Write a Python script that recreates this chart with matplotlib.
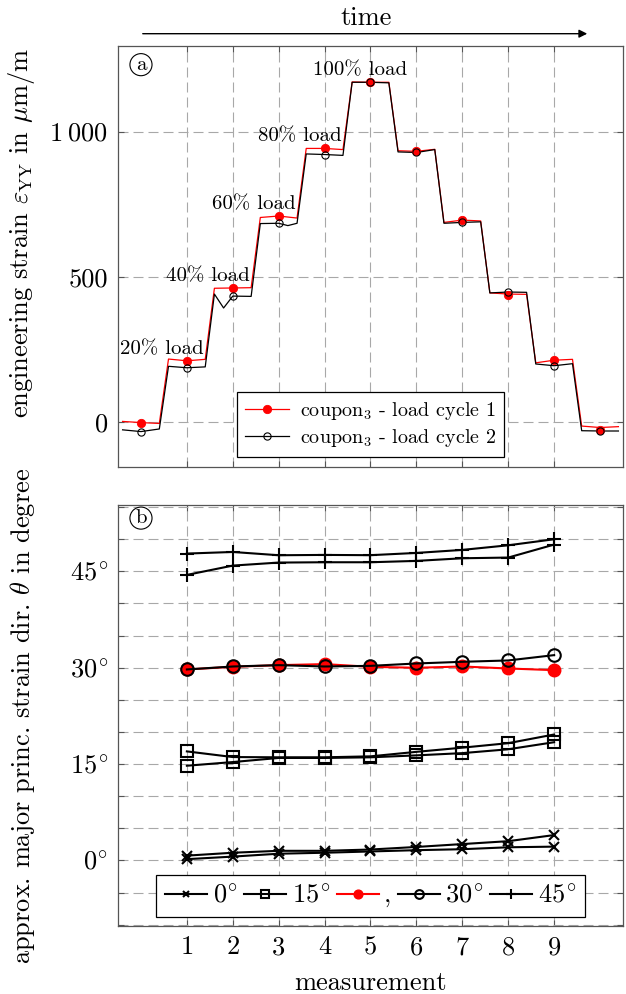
#!/usr/bin/env python3

import matplotlib
matplotlib.use("Agg")
import matplotlib.pyplot as plt
from matplotlib.ticker import MultipleLocator

plt.rcParams['font.family'] = ['cmr10', 'DejaVu Serif']
plt.rcParams['mathtext.fontset'] = 'cm'
plt.rcParams['axes.formatter.use_mathtext'] = True
plt.rcParams['axes.unicode_minus'] = False

# ---- panel (a): strain over time, two load cycles ----
t_cycle1 = [-0.4, 0, 0.4, 0.6, 1, 1.4, 1.6, 2, 2.4, 2.6, 3, 3.4, 3.6, 4, 4.4,
            4.6, 5, 5.4, 5.6, 6, 6.4, 6.6, 7, 7.4, 7.6, 8, 8.4, 8.6, 9, 9.4,
            9.6, 10, 10.4]
strain_cycle1 = [1, -3, -6, 216, 210, 215, 460, 461, 462, 704, 709, 702,
                 942, 942, 938, 1171, 1170, 1170, 934, 932, 939, 687, 695, 692,
                 444, 440, 439, 203, 212, 215, -15, -20, -17]

t_cycle2 = [-0.4, 0, 0.4, 0.6, 1, 1.4, 1.6, 1.8, 2, 2.4, 2.6, 3, 3.2, 3.4,
            3.6, 4, 4.4, 4.6, 5, 5.4, 5.6, 6, 6.4, 6.6, 7, 7.4, 7.6, 8, 8.4,
            8.6, 9, 9.4, 9.6, 10, 10.4]
strain_cycle2 = [-28, -34, -25, 191, 186, 189, 440, 392, 433, 432, 683, 684,
                 676, 684, 923, 921, 918, 1170, 1170, 1168, 930, 928, 938,
                 684, 687, 689, 444, 447, 446, 199, 193, 200, -31, -32, -32]

steps = list(range(11))
marks_cycle1 = [-3, 210, 461, 709, 942, 1170, 932, 695, 437, 214, -30]
marks_cycle2 = [-37, 186, 433, 684, 921, 1170, 928, 687, 447, 191, -32]

load_labels = ["20% load", "40% load", "60% load", "80% load", "100% load"]

# ---- panel (b): principal strain direction per measurement ----
meas = [1, 2, 3, 4, 5, 6, 7, 8, 9]
th0_a = [0.75, 1.2, 1.5, 1.5, 1.7, 2.1, 2.55, 3.0, 3.95]
th0_b = [0.2, 0.6, 1.05, 1.2, 1.4, 1.6, 1.75, 2.05, 2.15]
th15_a = [16.97, 16.09, 16.05, 16.05, 16.2, 16.9, 17.55, 18.25, 19.6]
th15_b = [14.74, 15.31, 15.95, 15.95, 16.05, 16.35, 16.7, 17.3, 18.4]
th30_red = [29.72, 30.13, 30.39, 30.55, 30.13, 29.98, 30.18, 29.87, 29.61]
th30_black = [29.72, 30.18, 30.39, 30.18, 30.28, 30.65, 30.91, 31.12, 31.95]
th45_a = [47.75, 48.0, 47.49, 47.54, 47.5, 47.85, 48.32, 49.04, 49.98]
th45_b = [44.43, 45.88, 46.35, 46.4, 46.4, 46.61, 47.02, 47.13, 49.15]

#####################################################################

FS = 19
GRID = dict(color='#a8a8a8', linestyle=(0, (9, 4.5)), linewidth=0.8)
SPINE = '#555555'

def deg(v):
    return r'$%d^{\!\circ}$' % v

def style_axes(ax):
    for s in ax.spines.values():
        s.set_color(SPINE)
        s.set_linewidth(0.9)
    ax.tick_params(which='both', direction='in', top=True, right=True,
                   length=4, width=0.8, color=SPINE, labelsize=FS, pad=7)
    ax.set_xlim(-0.5, 10.5)
    ax.set_xticks(meas)

fig = plt.figure(figsize=(6.26, 9.94), dpi=100)
ax1 = fig.add_axes([0.1885, 0.5305, 0.8067, 0.4235])
ax2 = fig.add_axes([0.1885, 0.0684, 0.8067, 0.4235])

# panel (a)
style_axes(ax1)
ax1.set_ylim(-155, 1296)
ax1.set_yticks([0, 500, 1000])
ax1.set_yticklabels(['0', '500', r'$1\:000$'])
ax1.set_xticklabels([])
ax1.grid(True, **GRID)
ax1.set_axisbelow(True)

l1, = ax1.plot(t_cycle1, strain_cycle1, color='red', lw=0.9)
l2, = ax1.plot(t_cycle2, strain_cycle2, color='black', lw=0.9)
m1, = ax1.plot(steps, marks_cycle1, 'o', color='red', ms=6, mew=0.6)
m2, = ax1.plot(steps, marks_cycle2, 'o', mfc='none', mec='black', ms=5.2, mew=0.8)

offsets = [(-25, 12), (-25, 12), (-25, 12), (-25, 12), (-10, 12)]
for k, (txt, off) in enumerate(zip(load_labels, offsets), start=1):
    ax1.annotate(txt, xy=(k, marks_cycle1[k]), xytext=off,
                 textcoords='offset pixels', ha='center', va='center',
                 fontsize=15)

leg1 = ax1.legend([(l1, m1), (l2, m2)],
                  [r'coupon$_3$ - load cycle 1', r'coupon$_3$ - load cycle 2'],
                  loc='lower center', bbox_to_anchor=(0.5, 0.023),
                  borderaxespad=0, fontsize=14.5, fancybox=False,
                  edgecolor='black', framealpha=1, handlelength=2.2,
                  handletextpad=0.5, borderpad=0.4, labelspacing=0.25)
leg1.get_frame().set_linewidth(0.9)

ax1.set_ylabel(r'engineering strain $\varepsilon_{\mathrm{YY}}$ in $\mu$m/m',
               fontsize=FS)
ax1.yaxis.set_label_coords(-0.160, 0.555)
ax1.text(0.0455, 0.955, 'a', transform=ax1.transAxes, ha='center',
         va='center', fontsize=15,
         bbox=dict(boxstyle='circle,pad=0.1', fc='white', ec='black', lw=0.8))

# panel (b)
style_axes(ax2)
ax2.set_ylim(-10.2, 55.3)
ax2.set_yticks([0, 15, 30, 45])
ax2.set_yticklabels([deg(v) for v in [0, 15, 30, 45]])
ax2.yaxis.set_minor_locator(MultipleLocator(5))
ax2.set_xticklabels([str(m) for m in meas])
ax2.grid(True, which='both', **GRID)
ax2.set_axisbelow(True)

lw = 1.5
h0, = ax2.plot(meas, th0_a, 'x-', color='black', lw=lw, ms=6.5, mew=1.5)
ax2.plot(meas, th0_b, 'x-', color='black', lw=lw, ms=6.5, mew=1.5)
h15, = ax2.plot(meas, th15_a, 's-', color='black', mfc='none', lw=lw, ms=8.5, mew=1.5)
ax2.plot(meas, th15_b, 's-', color='black', mfc='none', lw=lw, ms=8.5, mew=1.5)
hr, = ax2.plot(meas, th30_red, 'o-', color='red', lw=lw, ms=9)
hc, = ax2.plot(meas, th30_black, 'o-', color='black', mfc='none', lw=lw, ms=9, mew=1.5)
h45, = ax2.plot(meas, th45_a, '+-', color='black', lw=lw, ms=10, mew=1.5)
ax2.plot(meas, th45_b, '+-', color='black', lw=lw, ms=10, mew=1.5)

leg2 = ax2.legend([h0, h15, hr, hc, h45],
                  [deg(0), deg(15), ',', deg(30), deg(45)],
                  loc='lower center', bbox_to_anchor=(0.5, 0.0207),
                  borderaxespad=0, ncol=5, fontsize=FS, fancybox=False,
                  edgecolor='black', framealpha=1, handlelength=1.6,
                  handletextpad=0.2, columnspacing=0.25, borderpad=0.35,
                  markerscale=0.7)
leg2.get_frame().set_linewidth(0.9)

ax2.set_ylabel(r'approx. major princ. strain dir. $\theta$ in degree',
               fontsize=FS)
ax2.yaxis.set_label_coords(-0.160, 0.5)
ax2.set_xlabel('measurement', fontsize=FS)
ax2.xaxis.set_label_coords(0.5, -0.108)
ax2.text(0.0455, 0.969, 'b', transform=ax2.transAxes, ha='center',
         va='center', fontsize=15,
         bbox=dict(boxstyle='circle,pad=0.1', fc='white', ec='black', lw=0.8))

# time arrow on top
fig.text(0.5847, 0.9819, 'time', ha='center', va='center', fontsize=FS)
fig.add_artist(matplotlib.patches.FancyArrowPatch(
    (0.2236, 0.9661), (0.9425, 0.9661), transform=fig.transFigure,
    arrowstyle='-|>', mutation_scale=12, lw=1, color='black'))

fig.savefig('out.png', dpi=100)
